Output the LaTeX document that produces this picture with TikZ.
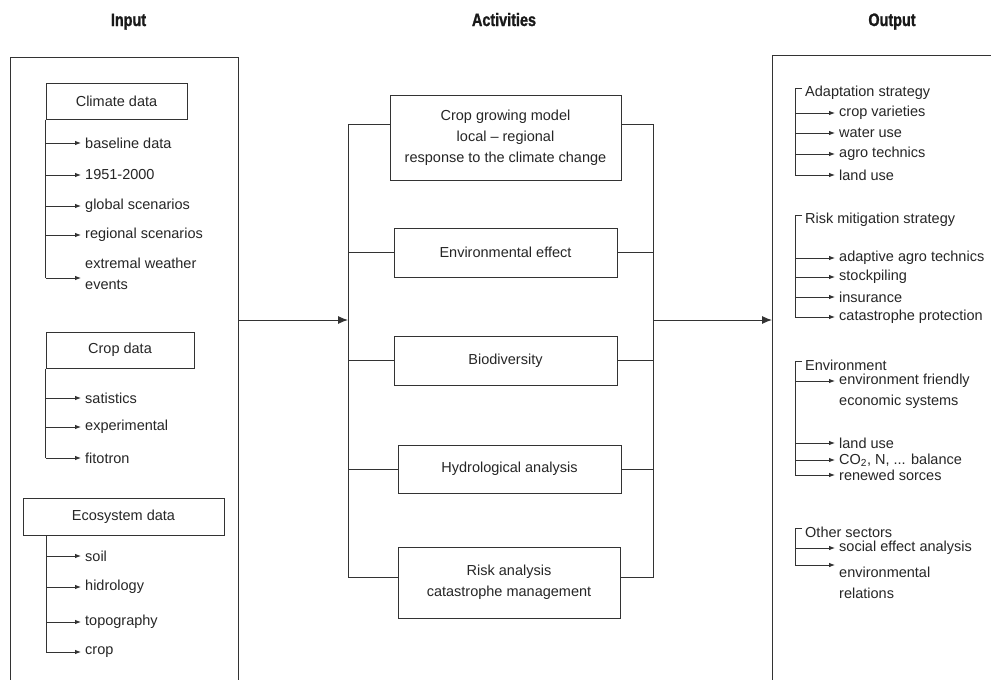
\documentclass[tikz,border=0pt]{standalone}
\usepackage{fontspec}
\setmainfont{Liberation Sans}
\newfontfamily\titlefont[FakeStretch=0.8,FakeBold=1.2]{Liberation Sans}
\usetikzlibrary{arrows.meta}
\newcommand{\txt}{\fontsize{14.5}{21}\selectfont}
\tikzset{
  ln/.style={draw=black!80, line width=1pt},
  arr/.style={ln, -{Latex[length=6pt,width=4.6pt]}},
  bigarr/.style={ln, -{Latex[length=10pt,width=8pt]}},
  box/.style={draw=black!80, line width=1pt, inner sep=0pt, align=center, font=\txt, text=black!85},
  item/.style={anchor=west, inner xsep=4pt, inner ysep=1pt, align=left, font=\txt, text=black!85},
  head/.style={anchor=west, inner xsep=2pt, inner ysep=1pt, font=\txt, text=black!85},
  ttl/.style={anchor=base, font=\titlefont\bfseries\fontsize{18}{20}\selectfont, text=black!90}
}
\begin{document}
\begin{tikzpicture}[x=1pt,y=-1pt]
\useasboundingbox[fill=white] (0,0) rectangle (991,680);

% titles
\node[ttl] (tin) at (128.5,26) {Input};
\node[ttl] (tact) at (504,26) {Activities};
\node[ttl] (tout) at (892,26) {Output};

% outer panels
\draw[ln] (10,680) -- (10,57) -- (238,57) -- (238,680);
\draw[ln] (772,680) -- (772,55) -- (995,55);

% ---------- Input panel ----------
\node[box, minimum width=141pt, minimum height=36pt] (clim) at (116.5,101) {Climate data};
\node[item] (c1) at (81,143) {baseline data};
\node[item] (c2) at (81,175) {1951-2000};
\node[item] (c3) at (81,206) {global scenarios};
\node[item] (c4) at (81,235) {regional scenarios};
\node[item] (c5) at (81,274) {extremal weather\\events};
\draw[ln] (clim.south west) -- ([yshift=-4pt]clim.south west |- c5.west);
\foreach \n in {c1,c2,c3,c4} \draw[arr] (clim.south west |- \n.west) -- (\n.west);
\draw[arr] ([yshift=-4pt]clim.south west |- c5.west) -- ([yshift=-4pt]c5.west);

\node[box, minimum width=148pt, minimum height=36pt] (crop) at (120,350) {Crop data};
\node[item] (d1) at (81,398) {satistics};
\node[item] (d2) at (81,427) {experimental};
\node[item] (d3) at (81,458) {fitotron};
\draw[ln] (crop.south west) -- (crop.south west |- d3.west);
\foreach \n in {d1,d2,d3} \draw[arr] (crop.south west |- \n.west) -- (\n.west);

\node[box, minimum width=201pt, minimum height=37pt] (eco) at (123.5,516.5) {Ecosystem data};
\coordinate (esp) at (46,535);
\node[item] (e1) at (81,556) {soil};
\node[item] (e2) at (81,587) {hidrology};
\node[item] (e3) at (81,622) {topography};
\node[item] (e4) at (81,652) {crop};
\draw[ln] (esp) -- (esp |- e4.west);
\foreach \n in {e1,e2,e3,e4} \draw[arr] (esp |- \n.west) -- (\n.west);

% ---------- Activities ----------
\node[box, minimum width=231pt, minimum height=85pt] (b1) at (505.5,137.5)
  {Crop growing model\\local -- regional\\response to the climate change};
\node[box, minimum width=223pt, minimum height=49pt] (b2) at (505.5,252.5) {Environmental effect};
\node[box, minimum width=223pt, minimum height=49pt] (b3) at (505.5,360.5) {Biodiversity};
\node[box, minimum width=223pt, minimum height=48pt] (b4) at (509.5,469) {Hydrological analysis};
\node[box, minimum width=222pt, minimum height=71pt] (b5) at (509,582.5)
  {Risk analysis\\catastrophe management};

\coordinate (lsp) at (348,320);
\coordinate (rsp) at (653,320);
\coordinate (inR) at (238,320);
\coordinate (outL) at (772,320);

\draw[ln] ([yshift=13pt]b1.west) -- ([yshift=13pt]b1.west -| lsp) -- ([yshift=5pt]b5.west -| lsp) -- ([yshift=5pt]b5.west);
\draw[ln] ([yshift=13pt]b1.east) -- ([yshift=13pt]b1.east -| rsp) -- ([yshift=5pt]b5.east -| rsp) -- ([yshift=5pt]b5.east);
\foreach \n in {b2,b3,b4} {
  \draw[ln] (\n.west) -- (\n.west -| lsp);
  \draw[ln] (\n.east) -- (\n.east -| rsp);
}
\draw[bigarr] (inR) -- (lsp);
\draw[bigarr] (rsp) -- (outL);

% ---------- Output panel ----------
\coordinate (osp) at (795,0);

\node[head] (ha) at (803,93) {Adaptation strategy};
\node[item] (a1) at (835,113) {crop varieties};
\node[item] (a2) at (835,133) {water use};
\node[item] (a3) at (835,154) {agro technics};
\node[item] (a4) at (835,175) {land use};
\draw[ln] ([xshift=-1pt,yshift=5pt]ha.west) -- ([yshift=5pt]ha.west -| osp) -- (osp |- a4.west);
\foreach \n in {a1,a2,a3,a4} \draw[arr] (osp |- \n.west) -- (\n.west);

\node[head] (hr) at (803,220) {Risk mitigation strategy};
\node[item] (r1) at (835,258) {adaptive agro technics};
\node[item] (r2) at (835,277) {stockpiling};
\node[item] (r3) at (835,297) {insurance};
\node[item] (r4) at (835,317) {catastrophe protection};
\draw[ln] ([xshift=-1pt,yshift=5pt]hr.west) -- ([yshift=5pt]hr.west -| osp) -- (osp |- r4.west);
\foreach \n in {r1,r2,r3,r4} \draw[arr] (osp |- \n.west) -- (\n.west);

\node[head] (hn) at (803,365) {Environment};
\node[item] (n1) at (835,391) {environment friendly\\economic systems};
\node[item] (n2) at (835,443) {land use};
\node[item] (n3) at (835,460) {CO\textsubscript{2}, N, ... balance};
\node[item] (n4) at (835,475) {renewed sorces};
\draw[ln] ([xshift=-1pt,yshift=4pt]hn.west) -- ([yshift=4pt]hn.west -| osp) -- (osp |- n4.west);
\draw[arr] ([yshift=10pt]osp |- n1.west) -- ([yshift=10pt]n1.west);
\foreach \n in {n2,n3,n4} \draw[arr] (osp |- \n.west) -- (\n.west);

\node[head] (ho) at (803,532) {Other sectors};
\node[item] (o1) at (835,548) {social effect analysis};
\node[item] (o2) at (835,583) {environmental\\relations};
\draw[ln] ([xshift=-1pt,yshift=4pt]ho.west) -- ([yshift=4pt]ho.west -| osp) -- ([yshift=18pt]osp |- o2.west);
\draw[arr] (osp |- o1.west) -- (o1.west);
\draw[arr] ([yshift=18pt]osp |- o2.west) -- ([yshift=18pt]o2.west);
\end{tikzpicture}
\end{document}
